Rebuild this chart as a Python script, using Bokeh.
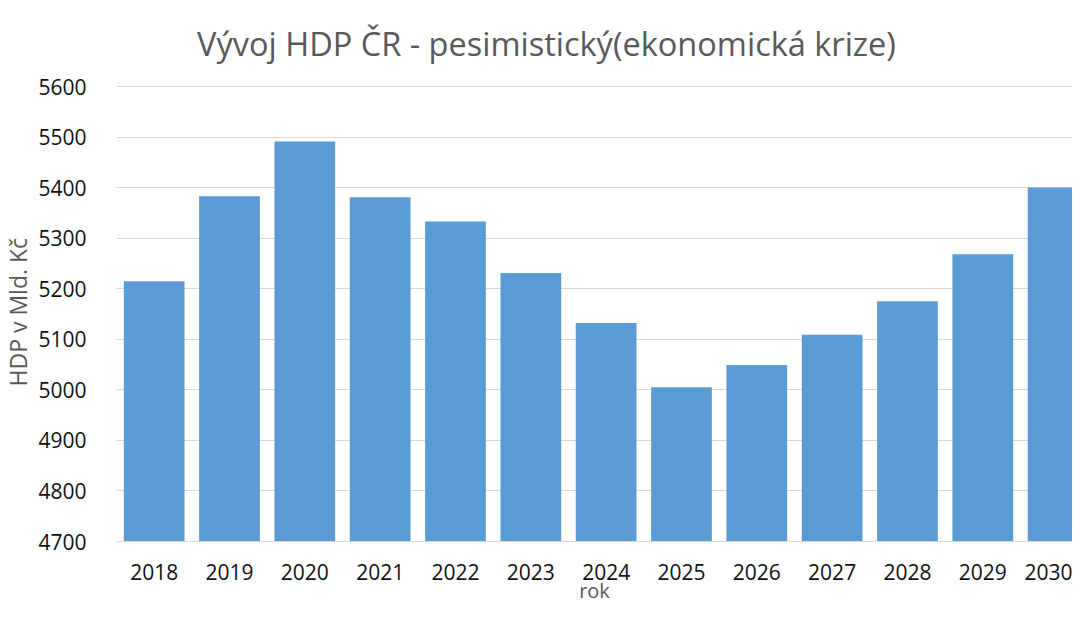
from bokeh.plotting import figure
from bokeh.models import Range1d, FixedTicker, Label, Title
from bokeh.embed import file_html
from bokeh.resources import INLINE

# ---- data ----
years = ["2018", "2019", "2020", "2021", "2022", "2023", "2024",
         "2025", "2026", "2027", "2028", "2029", "2030"]
hdp = [5215, 5383, 5491, 5381, 5333, 5231, 5132, 5005, 5049, 5109, 5175, 5268, 5400]
y_ticks = [4700, 4800, 4900, 5000, 5100, 5200, 5300, 5400, 5500, 5600]
title_text = "Vývoj HDP ČR - pesimistický(ekonomická krize)"
x_title = "rok"
y_title = "HDP v Mld. Kč"

FONT = "Open Sans"
BAR = "#5b9bd5"
GRID = "#d9d9d9"
GRAY = "#595959"

# ---- layout (pixels) ----
W, H = 1072, 610
FRAME_LEFT, FRAME_BOTTOM_PX = 116, 541      # frame left edge, y pixel of the 4700 line
TOP_TICK_PX = 86                            # y pixel of the 5600 line
CAT_PX = 75.33                              # width of one category in pixels

px_per_unit = (FRAME_BOTTOM_PX - TOP_TICK_PX) / (y_ticks[-1] - y_ticks[0])
y_end = y_ticks[-1] + TOP_TICK_PX / px_per_unit
x_end = (W - FRAME_LEFT) / CAT_PX

xs = [i + 0.5 for i in range(len(years))]

p = figure(width=W, height=H, output_backend="svg", toolbar_location=None,
           x_range=Range1d(0, x_end), y_range=Range1d(y_ticks[0], y_end),
           min_border_left=FRAME_LEFT, min_border_right=0, min_border_top=0,
           min_border_bottom=H - FRAME_BOTTOM_PX)

p.vbar(x=xs, top=hdp, bottom=y_ticks[0], width=0.806, fill_color=BAR, line_color=None)

p.outline_line_color = None
p.background_fill_color = "white"
p.border_fill_color = "white"

# chart title (drawn inside the frame, in the empty area above the 5600 line)
title_x = (546 - FRAME_LEFT) / CAT_PX
title_y = y_ticks[-1] + (TOP_TICK_PX - 43.3) / px_per_unit
p.add_layout(Label(x=title_x, y=title_y, text=title_text, text_align="center",
                   text_baseline="alphabetic", text_font=FONT, text_font_size="32.5px",
                   text_color=GRAY))

# x axis
xa = p.xaxis[0]
xa.ticker = FixedTicker(ticks=xs)
xa.major_label_overrides = {x: y for x, y in zip(xs, years)}
xa.major_tick_line_color = None
xa.minor_tick_line_color = None
xa.axis_line_color = GRID
xa.axis_line_width = 1
xa.major_label_text_font = FONT
xa.major_label_text_font_size = "21px"
xa.major_label_text_color = "#111111"
xa.major_label_standoff = 16
xa.axis_label = x_title
xa.axis_label_text_font = FONT
xa.axis_label_text_font_size = "20px"
xa.axis_label_text_font_style = "normal"
xa.axis_label_text_color = GRAY
xa.axis_label_standoff = -6

# y axis
ya = p.yaxis[0]
ya.ticker = FixedTicker(ticks=y_ticks)
ya.major_tick_line_color = None
ya.minor_tick_line_color = None
ya.axis_line_color = None
ya.major_label_text_font = FONT
ya.major_label_text_font_size = "21px"
ya.major_label_text_color = "#111111"
ya.major_label_standoff = 24

# y axis title, centred on the 4700-5600 span rather than on the whole frame
p.add_layout(Title(text=y_title, align="left", offset=155, vertical_align="top",
                   standoff=0, text_font=FONT, text_font_size="23px",
                   text_font_style="normal", text_color=GRAY), "left")

p.xgrid.grid_line_color = None
p.ygrid.ticker = FixedTicker(ticks=y_ticks)
p.ygrid.grid_line_color = GRID
p.ygrid.grid_line_width = 1

open("out.html", "w").write(file_html(p, INLINE))
